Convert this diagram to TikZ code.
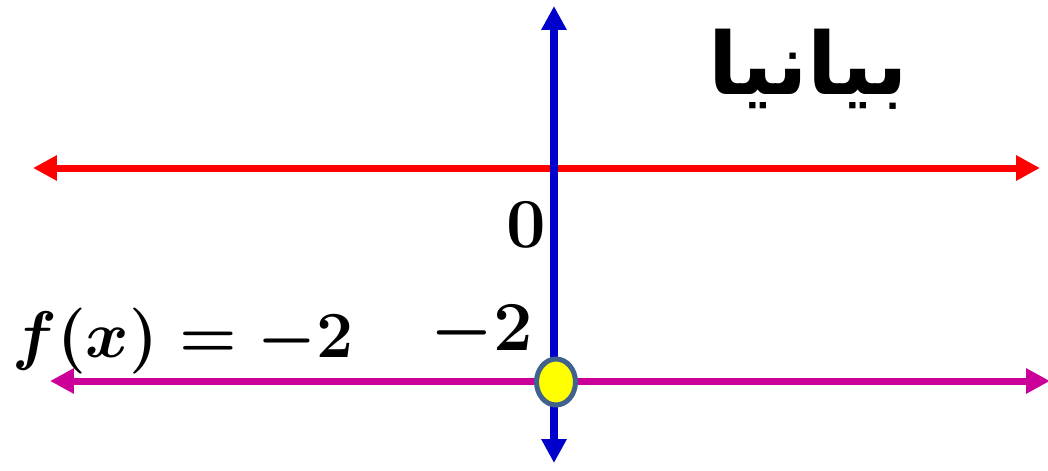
\RequirePackage{fix-cm}
\documentclass[tikz,border=0pt]{standalone}
\usepackage{fontspec}
\usetikzlibrary{arrows.meta,shapes.geometric}
\TeXXeTstate=1
\newfontfamily\arabicfont[Script=Arabic]{DejaVu Sans}
\definecolor{AxisRed}{HTML}{FF0000}
\definecolor{AxisBlue}{HTML}{0000CC}
\definecolor{Plum}{HTML}{CC0099}
\definecolor{DotFill}{HTML}{FFFF00}
\definecolor{DotEdge}{HTML}{41628C}
\tikzset{
  axis/.style={{Triangle[length=0.48cm,width=0.48cm]}-{Triangle[length=0.48cm,width=0.48cm]}, line width=0.14cm},
  xaxis/.style={axis, draw=AxisRed},
  yaxis/.style={axis, draw=AxisBlue, line width=0.17cm},
  graphline/.style={axis, draw=Plum},
  dot/.style={ellipse, draw=DotEdge, fill=DotFill, line width=0.1cm, minimum width=0.78cm, minimum height=0.92cm, inner sep=0pt},
  num/.style={inner sep=0pt, font=\fontsize{40}{48}\selectfont\boldmath}
}
\begin{document}
\begin{tikzpicture}[x=0.02cm, y=-0.02cm]
\useasboundingbox (0,0) rectangle (1048,470);
% axes
\coordinate (xl) at (33,168);
\coordinate (xr) at (1040,168);
\coordinate (yt) at (554,6);
\coordinate (yb) at (554,463);
\draw[xaxis] (xl) -- (xr);
\draw[yaxis] (yb) -- (yt);
% f(x) = -2
\coordinate (gl) at (50,381);
\coordinate (gr) at (1050,381);
\draw[graphline] (gl) -- (gr);
\node[dot] (pt) at (556,382) {};
% labels
\node[num] (zero) at (526,225) {$\mathbf{0}$};
\node[num] (mtwo) at (482,333) {$-2$};
\node[num, anchor=base west, font=\fontsize{37.5}{45}\selectfont\boldmath] (fx) at (12,357) {$f(x)=-2$};
\node[inner sep=0pt, anchor=base east, font=\fontsize{49}{57}\selectfont\bfseries] (title) at (908,94) {\arabicfont\beginR بيانيا\endR};
\end{tikzpicture}
\end{document}
